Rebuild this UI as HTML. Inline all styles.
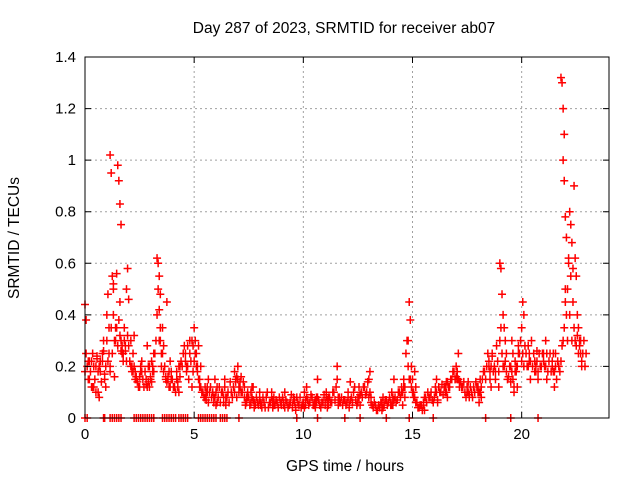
<!DOCTYPE html>
<html><head><meta charset="utf-8"><style>
body{margin:0;background:#fff}
svg{display:block;font-family:"Liberation Sans",sans-serif}
</style></head><body>
<svg id="chart" width="640" height="480" viewBox="0 0 640 480">
<rect width="640" height="480" fill="#fff"/>
<text x="344" y="33" font-size="15.5" text-anchor="middle">Day 287 of 2023, SRMTID for receiver ab07</text>
<g id="grid"></g>
<g id="marks"></g>
<g id="axes"></g>
<text x="345" y="471" font-size="15.5" text-anchor="middle">GPS time / hours</text>
<text transform="translate(19,238) rotate(-90)" font-size="15.5" text-anchor="middle">SRMTID / TECUs</text>
</svg>
<script>
const rowHours=[0,0.2,0.4,0.6,0.8,1.0,1.15,1.3,1.5,1.6,1.8,2.0,2.2,2.5,2.8,3.0,3.3,3.4,3.6,3.8,4.2,4.6,4.8,5.0,5.2,5.5,5.9,6.3,6.8,7.0,7.3,7.6,8.0,8.5,9.0,9.5,10.0,10.5,11.0,11.5,12.0,12.5,13.0,13.5,14.0,14.5,14.8,15.0,15.5,16.0,16.5,17.0,17.5,18.0,18.5,18.8,19.0,19.2,19.5,19.7,20.0,20.3,20.6,21.0,21.4,21.8,21.9,22.0,22.2,22.4,22.6];
const rowValues=[[0.44,0.38,0.2,0.15],[0.22,0.18,0.12,0.25],[0.2,0.15,0.1,0.23],[0.18,0.08,0.22,0.14],[0.25,0.3,0.17,0.12],[0.4,0.48,0.35,0.2],[1.02,0.95,0.55,0.52],[0.5,0.16,0.35,0.56],[0.98,0.92,0.83,0.75],[0.45,0.3,0.28,0.25],[0.35,0.26,0.5,0.58],[0.46,0.22,0.3,0.2],[0.25,0.32,0.18,0.15],[0.12,0.18,0.22,0.15],[0.13,0.28,0.2,0.12],[0.15,0.22,0.18,0.25],[0.62,0.6,0.55,0.48],[0.42,0.3,0.25,0.35],[0.28,0.2,0.16,0.45],[0.15,0.12,0.22,0.18],[0.15,0.12,0.1,0.2],[0.25,0.2,0.28,0.15],[0.3,0.22,0.12,0.18],[0.35,0.3,0.25,0.2],[0.28,0.15,0.2,0.1],[0.12,0.07,0.1,0.15],[0.08,0.15,0.05,0.12],[0.1,0.06,0.15,0.08],[0.12,0.18,0.15,0.08],[0.2,0.1,0.14,0.16],[0.12,0.05,0.08,0.1],[0.06,0.08,0.12,0.04],[0.1,0.06,0.04,0.08],[0.06,0.1,0.04,0.08],[0.05,0.08,0.06,0.1],[0.04,0.08,0.06,0.03],[0.05,0.1,0.07,0.12],[0.06,0.04,0.08,0.15],[0.06,0.1,0.04,0.08],[0.12,0.2,0.05,0.08],[0.06,0.1,0.04,0.14],[0.08,0.12,0.05,0.1],[0.15,0.18,0.08,0.05],[0.04,0.06,0.03,0.08],[0.05,0.1,0.08,0.15],[0.1,0.05,0.12,0.08],[0.3,0.45,0.38,0.2],[0.15,0.1,0.18,0.12],[0.05,0.03,0.08,0.06],[0.08,0.12,0.15,0.06],[0.1,0.14,0.08,0.12],[0.2,0.15,0.25,0.12],[0.1,0.14,0.08,0.12],[0.1,0.06,0.15,0.08],[0.2,0.15,0.12,0.25],[0.18,0.28,0.22,0.12],[0.6,0.58,0.48,0.4],[0.35,0.3,0.25,0.15],[0.2,0.3,0.25,0.1],[0.22,0.18,0.12,0.28],[0.35,0.45,0.4,0.28],[0.2,0.25,0.15,0.3],[0.22,0.18,0.26,0.15],[0.25,0.2,0.3,0.15],[0.22,0.18,0.12,0.25],[1.32,1.3,1.2,1.1],[1.0,0.92,0.78,0.7],[0.5,0.4,0.3,0.62],[0.8,0.75,0.68,0.58],[0.9,0.62,0.55,0.4],[0.35,0.3,0.25,0.2]];
// values every 0.1 h starting at 0 h
const baseA=[.18,.2,.15,.22,.12,.2,.1,.18,.22,.15, .3,.25,.35,.4,.3,.28,.32,.25,.3,.22, .28,.2,.18,.15,.14,.16,.18,.12,.15,.14, .16,.2,.25,.4,.3,.2,.18,.15,.16,.12, .15,.12,.18,.2,.22,.25,.22,.2,.25,.3, .22,.2,.15,.12,.1,.08,.12,.1,.08,.06, .1,.08,.06,.1,.12,.08,.06,.1,.12,.14, .15,.12,.1,.08,.06,.08,.1,.07,.05,.06, .07,.05,.06,.08,.04,.06,.07,.05,.06,.08, .06,.05,.07,.04,.06,.05,.07,.08,.05,.04, .06,.05,.07,.06,.08,.05,.06,.07,.04,.06, .05,.07,.08,.06,.1,.12,.08,.06,.05,.07, .06,.05,.08,.1,.07,.06,.09,.08,.12,.1, .08,.06,.04,.05,.03,.04,.06,.05,.07,.06, .06,.05,.08,.07,.1,.12,.15,.25,.2,.15, .1,.08,.06,.04,.05,.06,.08,.1,.08,.07, .08,.1,.12,.1,.09,.12,.14,.12,.15,.18, .16,.15,.14,.12,.1,.12,.09,.1,.12,.14, .12,.1,.15,.18,.2,.22,.2,.18,.15,.22, .3,.25,.2,.18,.16,.14,.15,.18,.2,.25, .22,.2,.25,.28,.22,.2,.18,.22,.25,.2, .22,.2,.18,.25,.2,.18,.15,.2,.22,.3, .45,.5,.4,.3,.35,.28,.25,.3,.25,.2];
// values every 0.1 h starting at 0.05 h
const baseB=[.25,.22,.18,.12,.15,.24,.2,.14,.26,.2, .22,.18,.25,.3,.35,.38,.26,.22,.28,.32, .22,.18,.2,.16,.12,.2,.15,.18,.12,.2, .14,.18,.3,.5,.35,.25,.2,.14,.18,.15, .12,.1,.14,.16,.2,.28,.18,.15,.22,.28, .25,.18,.12,.1,.08,.1,.06,.12,.1,.08, .06,.12,.1,.08,.05,.1,.14,.08,.1,.16, .12,.1,.14,.06,.08,.05,.12,.06,.08,.05, .05,.08,.04,.1,.06,.08,.05,.07,.04,.06, .08,.04,.06,.05,.09,.07,.04,.06,.08,.05, .04,.08,.05,.09,.05,.07,.08,.05,.06,.09, .08,.05,.06,.1,.07,.15,.06,.08,.07,.05, .08,.07,.06,.12,.05,.08,.1,.12,.09,.14, .1,.05,.06,.03,.05,.06,.04,.07,.05,.08, .05,.07,.06,.1,.08,.1,.12,.3,.15,.12, .08,.06,.04,.05,.03,.08,.06,.08,.1,.06, .1,.07,.1,.13,.12,.1,.12,.15,.18,.15, .18,.14,.12,.14,.08,.1,.12,.08,.1,.12, .1,.12,.18,.15,.25,.18,.24,.2,.28,.18, .35,.2,.22,.15,.2,.18,.12,.2,.25,.3, .25,.28,.2,.22,.3,.25,.2,.18,.2,.25, .2,.25,.22,.18,.25,.2,.22,.18,.28,.35, .7,.6,.55,.45,.3,.32,.28,.22,.3,.25];
const zeroHours=[0,0.1,0.85,0.9,1.15,1.25,1.35,1.45,1.55,1.65,2.25,2.35,2.45,2.55,2.65,2.75,2.85,2.95,3.05,3.15,3.55,3.65,3.75,3.85,3.95,4.05,4.15,4.3,4.4,4.5,4.6,4.7,5.2,5.3,5.4,5.5,5.6,5.7,5.8,5.9,6.0,6.2,6.3,6.4,6.5,7.05,9.7,10.65,11.9,12.6,13.8,14.85,15.95,18.35,19.5,20.75];
const xTicks=[0,5,10,15,20];
const yTicks=[0,0.2,0.4,0.6,0.8,1,1.2,1.4];
const X0=85,X1=609,Y0=418,Y1=57,XMAX=24,YMAX=1.4;
const xs=h=>X0+(X1-X0)*h/XMAX, ys=v=>Y0-(Y0-Y1)*v/YMAX;
const NS='http://www.w3.org/2000/svg';
function mk(tag,attrs,parent){const e=document.createElementNS(NS,tag);for(const k in attrs)e.setAttribute(k,attrs[k]);parent.appendChild(e);return e;}
const grid=document.getElementById('grid'),axes=document.getElementById('axes'),marks=document.getElementById('marks');
yTicks.forEach(t=>{const y=ys(t);
 if(t>0&&t<YMAX){const g=mk('line',{x1:X0,x2:X1,y1:y,y2:y,stroke:'#a0a0a0','stroke-dasharray':'2,3'},grid);
 
 }
 const tk=mk('path',{d:`M${X0},${y}h6M${X1},${y}h-6`,stroke:'#000'},axes);
 
 
 const l=mk('text',{x:X0-9,y:y+5,'font-size':15,'text-anchor':'end'},axes);l.textContent=String(t);
 
 });
xTicks.forEach(t=>{const x=xs(t);
 if(t>0){const g=mk('line',{x1:x,x2:x,y1:Y0,y2:Y1,stroke:'#a0a0a0','stroke-dasharray':'2,3'},grid);
 
 }
 const tk=mk('path',{d:`M${x},${Y0}v-6M${x},${Y1}v6`,stroke:'#000'},axes);
 
 
 const l=mk('text',{x:x,y:Y0+21,'font-size':15,'text-anchor':'middle'},axes);l.textContent=String(t);
 
 });
const fr=mk('rect',{x:X0,y:Y1,width:X1-X0,height:Y0-Y1,fill:'none',stroke:'#000'},axes);


let d='';
const plus=(x,y)=>{d+=`M${x-4},${y}h8M${x},${y-4}v8`;};
rowHours.forEach((h,i)=>rowValues[i].forEach((v,j)=>plus(xs(h+j*0.05),ys(v))));
baseA.forEach((v,i)=>plus(xs(i*0.1),ys(v)));
baseB.forEach((v,i)=>plus(xs(i*0.1+0.05),ys(v)));
zeroHours.forEach(h=>plus(xs(h),ys(0)));
const p=mk('path',{d:d,stroke:'#ff0000','stroke-width':1.5,fill:'none'},marks);


</script>
</body></html>
